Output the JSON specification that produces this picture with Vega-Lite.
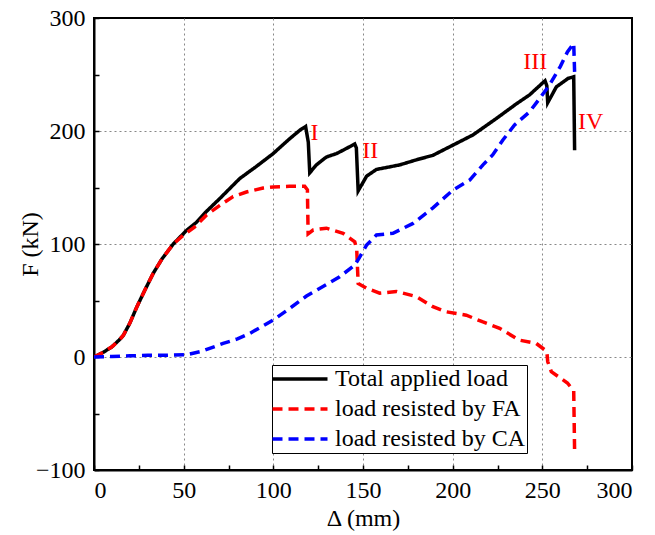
{
  "$schema": "https://vega.github.io/schema/vega-lite/v6.json",
  "width": 538,
  "height": 452,
  "autosize": {"type": "none"},
  "padding": {"left": 94, "top": 18, "right": 22, "bottom": 65},
  "background": "white",
  "config": {
    "font": "Liberation Serif",
    "view": {"stroke": "black", "strokeWidth": 2},
    "style": {
      "guide-label": {"font": "Liberation Serif", "fill": "black"},
      "guide-title": {"font": "Liberation Serif", "fill": "black"}
    },
    "legend": {"labelFont": "Liberation Serif", "titleFont": "Liberation Serif"},
    "axis": {
      "domainColor": "black",
      "domainWidth": 2,
      "tickColor": "black",
      "tickWidth": 1.5,
      "tickSize": -5,
      "labelFont": "Liberation Serif",
      "labelFontSize": 24,
      "labelColor": "black",
      "titleFont": "Liberation Serif",
      "titleFontSize": 24,
      "titleFontWeight": "normal",
      "titleColor": "black",
      "gridColor": "#888888",
      "gridDash": [2, 3],
      "gridWidth": 1
    }
  },
  "layer": [
    {
      "data": {
        "values": [
          {"s": "Total applied load", "d": 0, "f": 0},
          {"s": "Total applied load", "d": 5, "f": 4},
          {"s": "Total applied load", "d": 10, "f": 9},
          {"s": "Total applied load", "d": 14, "f": 15},
          {"s": "Total applied load", "d": 16.3, "f": 19},
          {"s": "Total applied load", "d": 20, "f": 30},
          {"s": "Total applied load", "d": 23.8, "f": 44},
          {"s": "Total applied load", "d": 28, "f": 58},
          {"s": "Total applied load", "d": 33, "f": 74},
          {"s": "Total applied load", "d": 38, "f": 87},
          {"s": "Total applied load", "d": 44.2, "f": 100},
          {"s": "Total applied load", "d": 51.6, "f": 112},
          {"s": "Total applied load", "d": 57, "f": 119},
          {"s": "Total applied load", "d": 62.8, "f": 129},
          {"s": "Total applied load", "d": 70, "f": 140},
          {"s": "Total applied load", "d": 81.3, "f": 158},
          {"s": "Total applied load", "d": 90, "f": 168},
          {"s": "Total applied load", "d": 99.9, "f": 180},
          {"s": "Total applied load", "d": 109, "f": 193},
          {"s": "Total applied load", "d": 115, "f": 201},
          {"s": "Total applied load", "d": 118, "f": 204},
          {"s": "Total applied load", "d": 119.5, "f": 190},
          {"s": "Total applied load", "d": 120.3, "f": 163},
          {"s": "Total applied load", "d": 124, "f": 170},
          {"s": "Total applied load", "d": 129.6, "f": 177},
          {"s": "Total applied load", "d": 135.2, "f": 180},
          {"s": "Total applied load", "d": 138.9, "f": 183},
          {"s": "Total applied load", "d": 145.4, "f": 188.5},
          {"s": "Total applied load", "d": 146.3, "f": 185},
          {"s": "Total applied load", "d": 147.3, "f": 147},
          {"s": "Total applied load", "d": 152, "f": 160},
          {"s": "Total applied load", "d": 157.5, "f": 166},
          {"s": "Total applied load", "d": 170.5, "f": 170},
          {"s": "Total applied load", "d": 179.8, "f": 174.5},
          {"s": "Total applied load", "d": 189, "f": 178.5},
          {"s": "Total applied load", "d": 198.3, "f": 186},
          {"s": "Total applied load", "d": 211.3, "f": 196.5},
          {"s": "Total applied load", "d": 224.3, "f": 211},
          {"s": "Total applied load", "d": 235.5, "f": 224},
          {"s": "Total applied load", "d": 242.9, "f": 232},
          {"s": "Total applied load", "d": 251.5, "f": 244.5},
          {"s": "Total applied load", "d": 252.5, "f": 240},
          {"s": "Total applied load", "d": 253, "f": 225},
          {"s": "Total applied load", "d": 257.8, "f": 239},
          {"s": "Total applied load", "d": 264.3, "f": 246.5},
          {"s": "Total applied load", "d": 267.5, "f": 248},
          {"s": "Total applied load", "d": 268, "f": 183},
          {"s": "load resisted by FA", "d": 0, "f": 0},
          {"s": "load resisted by FA", "d": 5, "f": 4},
          {"s": "load resisted by FA", "d": 10, "f": 9},
          {"s": "load resisted by FA", "d": 14, "f": 15},
          {"s": "load resisted by FA", "d": 16.3, "f": 19},
          {"s": "load resisted by FA", "d": 20, "f": 30},
          {"s": "load resisted by FA", "d": 23.8, "f": 44},
          {"s": "load resisted by FA", "d": 28, "f": 58},
          {"s": "load resisted by FA", "d": 33, "f": 74},
          {"s": "load resisted by FA", "d": 38, "f": 87},
          {"s": "load resisted by FA", "d": 44.2, "f": 100},
          {"s": "load resisted by FA", "d": 50, "f": 108},
          {"s": "load resisted by FA", "d": 56, "f": 115},
          {"s": "load resisted by FA", "d": 62.8, "f": 125.7},
          {"s": "load resisted by FA", "d": 70, "f": 134},
          {"s": "load resisted by FA", "d": 77.6, "f": 142},
          {"s": "load resisted by FA", "d": 85, "f": 146},
          {"s": "load resisted by FA", "d": 94.3, "f": 149.5},
          {"s": "load resisted by FA", "d": 100, "f": 150.5},
          {"s": "load resisted by FA", "d": 109, "f": 151},
          {"s": "load resisted by FA", "d": 117.5, "f": 151},
          {"s": "load resisted by FA", "d": 119, "f": 148},
          {"s": "load resisted by FA", "d": 119.4, "f": 109},
          {"s": "load resisted by FA", "d": 122.2, "f": 112.4},
          {"s": "load resisted by FA", "d": 129.6, "f": 114},
          {"s": "load resisted by FA", "d": 138.9, "f": 109.5},
          {"s": "load resisted by FA", "d": 145.4, "f": 102},
          {"s": "load resisted by FA", "d": 146.5, "f": 95},
          {"s": "load resisted by FA", "d": 147.3, "f": 65},
          {"s": "load resisted by FA", "d": 152, "f": 60.8},
          {"s": "load resisted by FA", "d": 159.3, "f": 56.5},
          {"s": "load resisted by FA", "d": 168.6, "f": 58},
          {"s": "load resisted by FA", "d": 179.8, "f": 53.5},
          {"s": "load resisted by FA", "d": 189, "f": 44.5},
          {"s": "load resisted by FA", "d": 196.5, "f": 40},
          {"s": "load resisted by FA", "d": 207.6, "f": 37},
          {"s": "load resisted by FA", "d": 216.9, "f": 31},
          {"s": "load resisted by FA", "d": 226.2, "f": 25.4},
          {"s": "load resisted by FA", "d": 237, "f": 15},
          {"s": "load resisted by FA", "d": 246.6, "f": 12},
          {"s": "load resisted by FA", "d": 252.5, "f": 5},
          {"s": "load resisted by FA", "d": 253, "f": -4},
          {"s": "load resisted by FA", "d": 255, "f": -13},
          {"s": "load resisted by FA", "d": 264, "f": -23},
          {"s": "load resisted by FA", "d": 267.5, "f": -30},
          {"s": "load resisted by FA", "d": 268, "f": -84},
          {"s": "load resisted by CA", "d": 0, "f": 0},
          {"s": "load resisted by CA", "d": 10, "f": 0.5},
          {"s": "load resisted by CA", "d": 20, "f": 1},
          {"s": "load resisted by CA", "d": 30, "f": 1.5},
          {"s": "load resisted by CA", "d": 40, "f": 1.5},
          {"s": "load resisted by CA", "d": 51.6, "f": 2},
          {"s": "load resisted by CA", "d": 60, "f": 5},
          {"s": "load resisted by CA", "d": 72, "f": 12},
          {"s": "load resisted by CA", "d": 80, "f": 16},
          {"s": "load resisted by CA", "d": 87, "f": 21},
          {"s": "load resisted by CA", "d": 99.9, "f": 32.7},
          {"s": "load resisted by CA", "d": 110, "f": 44},
          {"s": "load resisted by CA", "d": 118.5, "f": 54},
          {"s": "load resisted by CA", "d": 126, "f": 60.8},
          {"s": "load resisted by CA", "d": 137, "f": 71},
          {"s": "load resisted by CA", "d": 145.4, "f": 81.4},
          {"s": "load resisted by CA", "d": 148, "f": 88},
          {"s": "load resisted by CA", "d": 152, "f": 99},
          {"s": "load resisted by CA", "d": 157.5, "f": 108},
          {"s": "load resisted by CA", "d": 166.7, "f": 109.5},
          {"s": "load resisted by CA", "d": 177.9, "f": 118.2},
          {"s": "load resisted by CA", "d": 189, "f": 132},
          {"s": "load resisted by CA", "d": 200.2, "f": 147.8},
          {"s": "load resisted by CA", "d": 209.5, "f": 156.6},
          {"s": "load resisted by CA", "d": 216.9, "f": 170},
          {"s": "load resisted by CA", "d": 222.4, "f": 179},
          {"s": "load resisted by CA", "d": 228, "f": 192},
          {"s": "load resisted by CA", "d": 234.5, "f": 205.3},
          {"s": "load resisted by CA", "d": 242.9, "f": 217},
          {"s": "load resisted by CA", "d": 248.5, "f": 228.8},
          {"s": "load resisted by CA", "d": 254, "f": 240.7},
          {"s": "load resisted by CA", "d": 260, "f": 257},
          {"s": "load resisted by CA", "d": 264, "f": 270},
          {"s": "load resisted by CA", "d": 267.5, "f": 277.5},
          {"s": "load resisted by CA", "d": 268, "f": 252}
        ]
      },
      "mark": {"type": "line", "strokeWidth": 3.5, "clip": true},
      "encoding": {
        "x": {
          "field": "d", "type": "quantitative",
          "scale": {"domain": [0, 300], "nice": false},
          "axis": {
            "title": "Δ (mm)",
            "labelFont": "Liberation Serif",
            "titleFont": "Liberation Serif",
            "values": [0, 25, 50, 75, 100, 125, 150, 175, 200, 225, 250, 275, 300],
            "labelExpr": "datum.value % 50 === 0 ? datum.label : ''",
            "gridOpacity": {"condition": {"test": "datum.value % 50 === 0 && datum.value > 0 && datum.value < 300", "value": 1}, "value": 0},
            "labelPadding": 13,
            "titlePadding": 4
          }
        },
        "y": {
          "field": "f", "type": "quantitative",
          "scale": {"domain": [-100, 300], "nice": false},
          "axis": {
            "title": "F (kN)",
            "labelFont": "Liberation Serif",
            "titleFont": "Liberation Serif",
            "values": [-100, -50, 0, 50, 100, 150, 200, 250, 300],
            "labelExpr": "datum.value % 100 === 0 ? datum.label : ''",
            "gridOpacity": {"condition": {"test": "datum.value % 100 === 0 && datum.value > -100 && datum.value < 300", "value": 1}, "value": 0},
            "labelPadding": 14,
            "titleX": -52
          }
        },
        "color": {
          "field": "s", "type": "nominal",
          "scale": {"domain": ["Total applied load", "load resisted by FA", "load resisted by CA"], "range": ["#000000", "#ff0000", "#0000ff"]},
          "legend": {
            "title": null, "orient": "none", "legendX": 178, "legendY": 347,
            "strokeColor": "black", "fillColor": "white", "padding": 2,
            "labelFontSize": 24, "labelFont": "Liberation Serif", "labelColor": "black", "labelLimit": 400,
            "symbolType": "M-5,0H5", "symbolSize": 121, "symbolStrokeWidth": 3.5,
            "symbolOffset": 14, "labelOffset": 23, "rowPadding": 6
          }
        },
        "strokeDash": {
          "field": "s", "type": "nominal",
          "scale": {"domain": ["Total applied load", "load resisted by FA", "load resisted by CA"], "range": [[1, 0], [10, 6], [10, 6]]},
          "legend": {
            "title": null, "orient": "none", "legendX": 178, "legendY": 347,
            "strokeColor": "black", "fillColor": "white", "padding": 2,
            "labelFontSize": 24, "labelFont": "Liberation Serif", "labelColor": "black", "labelLimit": 400,
            "symbolType": "M-5,0H5", "symbolSize": 121, "symbolStrokeWidth": 3.5,
            "symbolOffset": 14, "labelOffset": 23, "rowPadding": 6
          }
        }
      }
    },
    {
      "data": {
        "values": [
          {"t": "I", "d": 123, "f": 198},
          {"t": "II", "d": 154, "f": 182},
          {"t": "III", "d": 246, "f": 261},
          {"t": "IV", "d": 277, "f": 208}
        ]
      },
      "mark": {"type": "text", "color": "#ff0000", "fontSize": 24, "font": "Liberation Serif"},
      "encoding": {
        "x": {"field": "d", "type": "quantitative"},
        "y": {"field": "f", "type": "quantitative"},
        "text": {"field": "t"}
      }
    }
  ]
}
